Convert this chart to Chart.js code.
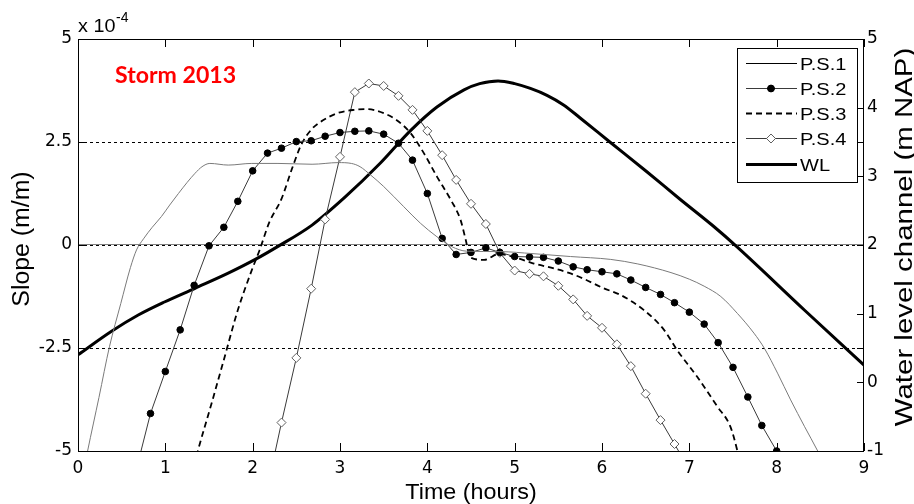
<!DOCTYPE html>
<html lang="en">
<head>
<meta charset="UTF-8">
<title>Storm 2013</title>
<script src="https://cdn.jsdelivr.net/npm/chart.js"></script>
<style>
  body { margin: 0; background: #fff; }
  canvas { display: block; }
</style>
</head>
<body>
<canvas id="grafico" width="914" height="504"></canvas>
<script>
// tick values of the three axes
var xTicks = [0, 1, 2, 3, 4, 5, 6, 7, 8, 9];
var slopeTicks = [-5, -2.5, 0, 2.5, 5];
var levelTicks = [-1, 0, 1, 2, 3, 4, 5];

// P.S.1 (thin grey line), slope x 1e-4
var ps1Time = [0.0, 0.11, 0.24, 0.36, 0.49, 0.60, 0.67, 0.75, 0.85, 0.955, 1.05, 1.15, 1.25, 1.34, 1.42, 1.51, 1.72, 1.99, 2.29, 2.68, 2.98, 3.13, 3.23, 3.35, 3.50, 3.73, 3.92, 4.11, 4.28, 4.45, 4.83, 5.21, 5.64, 6.10, 6.41, 6.79, 7.00, 7.17, 7.36, 7.55, 7.74, 7.86, 8.01, 8.16, 8.32, 8.47, 8.60];
var ps1Slope = [-6.2, -5.0, -3.7, -2.47, -1.42, -0.55, -0.12, 0.15, 0.43, 0.69, 0.97, 1.25, 1.52, 1.74, 1.90, 1.98, 1.94, 1.98, 1.98, 1.96, 2.0, 1.98, 1.90, 1.70, 1.42, 0.93, 0.53, 0.20, -0.04, -0.15, -0.16, -0.21, -0.28, -0.35, -0.46, -0.67, -0.83, -1.00, -1.25, -1.66, -2.14, -2.51, -3.11, -3.76, -4.41, -5.0, -5.55];

// P.S.2 (filled dots every 10 minutes)
var ps2Time = [0.67, 0.83, 1.00, 1.17, 1.33, 1.50, 1.67, 1.83, 2.00, 2.17, 2.33, 2.50, 2.67, 2.83, 3.00, 3.17, 3.33, 3.50, 3.67, 3.83, 4.00, 4.17, 4.33, 4.50, 4.67, 4.83, 5.00, 5.17, 5.33, 5.50, 5.67, 5.83, 6.00, 6.17, 6.33, 6.50, 6.67, 6.83, 7.00, 7.17, 7.33, 7.50, 7.67, 7.83, 8.00];
var ps2Slope = [-5.43, -4.09, -3.07, -2.06, -0.98, -0.02, 0.43, 1.06, 1.80, 2.23, 2.35, 2.51, 2.53, 2.64, 2.73, 2.76, 2.77, 2.69, 2.47, 2.06, 1.25, 0.16, -0.23, -0.18, -0.07, -0.18, -0.28, -0.29, -0.30, -0.39, -0.53, -0.60, -0.65, -0.70, -0.85, -1.03, -1.20, -1.40, -1.63, -1.92, -2.37, -2.97, -3.69, -4.38, -5.0];

// P.S.3 (dashed)
var ps3Time = [1.30, 1.38, 1.53, 1.68, 1.83, 1.99, 2.08, 2.19, 2.33, 2.45, 2.56, 2.68, 2.80, 2.97, 3.16, 3.31, 3.50, 3.65, 3.81, 3.96, 4.11, 4.27, 4.38, 4.44, 4.49, 4.65, 4.82, 5.00, 5.22, 5.45, 5.64, 5.80, 6.02, 6.21, 6.48, 6.71, 6.86, 7.09, 7.32, 7.47, 7.55, 7.60];
var ps3Slope = [-5.6, -4.94, -3.84, -2.71, -1.58, -0.61, -0.12, 0.55, 1.12, 1.85, 2.45, 2.82, 3.02, 3.20, 3.28, 3.30, 3.20, 3.03, 2.71, 2.23, 1.66, 1.09, 0.61, 0.12, -0.30, -0.36, -0.22, -0.30, -0.45, -0.57, -0.69, -0.83, -1.05, -1.21, -1.58, -2.06, -2.55, -3.20, -3.92, -4.41, -5.0, -5.5];

// P.S.4 (open diamonds every 10 minutes)
var ps4Time = [2.17, 2.33, 2.50, 2.67, 2.83, 3.00, 3.17, 3.33, 3.50, 3.67, 3.83, 4.00, 4.17, 4.33, 4.50, 4.67, 4.83, 5.00, 5.17, 5.33, 5.50, 5.67, 5.83, 6.00, 6.17, 6.33, 6.50, 6.67, 6.83, 7.00];
var ps4Slope = [-5.88, -4.31, -2.74, -1.06, 0.62, 2.14, 3.71, 3.92, 3.86, 3.62, 3.28, 2.77, 2.18, 1.58, 1.00, 0.51, -0.19, -0.62, -0.70, -0.76, -0.99, -1.32, -1.72, -2.01, -2.41, -2.94, -3.61, -4.25, -4.83, -5.45];

// WL water level channel (m NAP), right axis
var wlTime = [0.0, 0.38, 0.69, 0.99, 1.34, 1.72, 2.03, 2.29, 2.68, 3.06, 3.46, 3.81, 4.11, 4.42, 4.60, 4.81, 5.00, 5.18, 5.37, 5.56, 5.75, 6.09, 6.51, 6.89, 7.27, 7.54, 8.32, 9.00];
var wlLevel = [0.40, 0.74, 0.98, 1.17, 1.37, 1.59, 1.79, 1.98, 2.29, 2.70, 3.19, 3.67, 4.01, 4.26, 4.35, 4.39, 4.35, 4.28, 4.18, 4.04, 3.85, 3.50, 3.07, 2.67, 2.28, 1.98, 1.05, 0.25];

var serieNames = ['P.S.1', 'P.S.2', 'P.S.3', 'P.S.4', 'WL'];

function pontos(tempos, valores) {
    var lista = [];
    for (let i = 0; i < tempos.length; i++) {
        lista.push({ x: tempos[i], y: valores[i] });
    }
    return lista;
}

// text with a horizontal stretch, like the exported figure
function texto(ctx, s, x, y, font, sx, align, rot) {
    ctx.save();
    ctx.translate(x, y);
    if (rot) ctx.rotate(rot);
    ctx.scale(sx, 1);
    ctx.font = font;
    ctx.textAlign = align || 'left';
    ctx.textBaseline = 'alphabetic';
    ctx.fillText(s, 0, 0);
    ctx.restore();
}

var tickFont = { family: 'DejaVu Sans', size: 17 };

var moldura = {
    id: 'moldura',
    beforeDatasetsDraw(chart) {
        var ctx = chart.ctx, a = chart.chartArea, y = chart.scales.y;
        ctx.save();
        // solid grey zero line
        ctx.strokeStyle = '#808080';
        ctx.lineWidth = 1;
        ctx.beginPath();
        ctx.moveTo(a.left, Math.round(y.getPixelForValue(0)) - 0.5);
        ctx.lineTo(a.right, Math.round(y.getPixelForValue(0)) - 0.5);
        ctx.stroke();
        // dashed grid
        ctx.strokeStyle = '#000';
        ctx.setLineDash([3, 3]);
        [2.5, 0, -2.5].forEach(function (v) {
            var py = Math.round(y.getPixelForValue(v)) + 0.5;
            ctx.beginPath();
            ctx.moveTo(a.left, py);
            ctx.lineTo(a.right, py);
            ctx.stroke();
        });
        ctx.restore();
    },
    afterDatasetsDraw(chart) {
        var ctx = chart.ctx, a = chart.chartArea;
        var x = chart.scales.x, y = chart.scales.y, y2 = chart.scales.y2;
        ctx.save();
        ctx.strokeStyle = '#000';
        ctx.lineWidth = 1;
        ctx.setLineDash([]);
        ctx.beginPath();
        // inward ticks top and bottom
        xTicks.forEach(function (t) {
            var px = Math.round(x.getPixelForValue(t)) + 0.5;
            ctx.moveTo(px, a.bottom); ctx.lineTo(px, a.bottom - 8);
            ctx.moveTo(px, a.top); ctx.lineTo(px, a.top + 8);
        });
        // left axis ticks, mirrored on the right
        slopeTicks.forEach(function (v) {
            var py = Math.round(y.getPixelForValue(v)) + 0.5;
            ctx.moveTo(a.left, py); ctx.lineTo(a.left + 7, py);
            ctx.moveTo(a.right, py); ctx.lineTo(a.right - 7, py);
        });
        levelTicks.forEach(function (v) {
            var py = Math.round(y2.getPixelForValue(v)) + 0.5;
            ctx.moveTo(a.right, py); ctx.lineTo(a.right - 7, py);
        });
        ctx.stroke();
        ctx.strokeRect(Math.round(a.left) + 0.5, Math.round(a.top) + 0.5, Math.round(a.right - a.left) - 1, Math.round(a.bottom - a.top));

        // legend
        var lx = 737, ly = 48, lw = 120, lh = 134;
        ctx.fillStyle = '#fff';
        ctx.fillRect(lx, ly, lw, lh);
        ctx.strokeRect(lx + 0.5, ly + 0.5, lw, lh);
        var bases = [70, 95, 120, 145, 171];
        chart.data.datasets.forEach(function (ds, i) {
            var cy = bases[i] - 6.5;
            ctx.save();
            ctx.strokeStyle = i === 0 ? '#000' : ds.borderColor;
            ctx.lineWidth = ds.borderWidth;
            ctx.setLineDash(ds.borderDash || []);
            ctx.beginPath();
            ctx.moveTo(746, cy); ctx.lineTo(797, cy);
            ctx.stroke();
            ctx.restore();
            if (ds.pointRadius > 0) {
                Chart.helpers.drawPoint(ctx, {
                    pointStyle: ds.pointStyle, radius: ds.pointRadius, rotation: 0,
                    borderWidth: ds.pointBorderWidth
                }, 771, cy);
                ctx.fillStyle = ds.pointBackgroundColor;
                ctx.strokeStyle = ds.pointBorderColor;
                ctx.lineWidth = ds.pointBorderWidth;
                ctx.fill();
                ctx.stroke();
            }
            ctx.fillStyle = '#000';
            texto(ctx, serieNames[i], 800, bases[i], '16px "Liberation Sans"', 1.25, 'left');
        });
        ctx.restore();
    },
    afterDraw(chart) {
        var ctx = chart.ctx;
        ctx.save();
        ctx.fillStyle = '#000';
        texto(ctx, 'Time (hours)', 471, 499, '22px "Liberation Sans"', 1.06, 'center');
        texto(ctx, 'Slope (m/m)', 29, 239, '23px "Liberation Sans"', 1.08, 'center', -Math.PI / 2);
        texto(ctx, 'Water level channel (m NAP)', 912, 237, '23px "Liberation Sans"', 1.28, 'center', -Math.PI / 2);
        texto(ctx, 'x 10', 78, 32, '18px "Liberation Sans"', 1.1, 'left');
        texto(ctx, '-4', 116, 22, '14px "Liberation Sans"', 1.0, 'left');
        ctx.fillStyle = '#ff0000';
        texto(ctx, 'Storm 2013', 115, 83, 'bold 22px Lato', 1.05, 'left');
        ctx.restore();
    }
};

var grafico = new Chart(document.getElementById('grafico'), {
    type: 'line',
    data: {
        datasets: [
            {
                label: serieNames[0],
                data: pontos(ps1Time, ps1Slope),
                borderColor: '#7a7a7a',
                borderWidth: 1,
                pointRadius: 0,
                cubicInterpolationMode: 'monotone',
                yAxisID: 'y',
                clip: 0
            },
            {
                label: serieNames[1],
                data: pontos(ps2Time, ps2Slope),
                borderColor: '#3a3a3a',
                borderWidth: 1,
                pointStyle: 'circle',
                pointRadius: 3.3,
                pointBackgroundColor: '#000',
                pointBorderColor: '#000',
                pointBorderWidth: 1,
                tension: 0,
                yAxisID: 'y',
                clip: 0
            },
            {
                label: serieNames[2],
                data: pontos(ps3Time, ps3Slope),
                borderColor: '#000',
                borderWidth: 1.8,
                borderDash: [6, 4],
                pointRadius: 0,
                cubicInterpolationMode: 'monotone',
                yAxisID: 'y',
                clip: 0
            },
            {
                label: serieNames[3],
                data: pontos(ps4Time, ps4Slope),
                borderColor: '#3a3a3a',
                borderWidth: 1,
                pointStyle: 'rectRot',
                pointRadius: 4.5,
                pointBackgroundColor: '#fff',
                pointBorderColor: '#606060',
                pointBorderWidth: 1,
                tension: 0,
                yAxisID: 'y',
                clip: 0
            },
            {
                label: serieNames[4],
                data: pontos(wlTime, wlLevel),
                borderColor: '#000',
                borderWidth: 3,
                pointRadius: 0,
                cubicInterpolationMode: 'monotone',
                yAxisID: 'y2',
                clip: 0
            }
        ]
    },
    options: {
        responsive: false,
        animation: false,
        devicePixelRatio: 1,
        layout: { padding: { top: 39, left: 0, right: 0, bottom: 0 } },
        plugins: {
            legend: { display: false },
            tooltip: { enabled: false }
        },
        scales: {
            x: {
                type: 'linear',
                min: xTicks[0],
                max: xTicks[xTicks.length - 1],
                ticks: { stepSize: 1, padding: 7, color: '#000', font: tickFont },
                grid: { display: false, drawTicks: false },
                border: { display: false },
                afterFit: function (s) { s.height = 53; }
            },
            y: {
                position: 'left',
                min: slopeTicks[0],
                max: slopeTicks[slopeTicks.length - 1],
                ticks: { stepSize: 2.5, padding: 6, color: '#000', font: tickFont },
                grid: { display: false, drawTicks: false },
                border: { display: false },
                afterFit: function (s) { s.width = 78; }
            },
            y2: {
                position: 'right',
                min: levelTicks[0],
                max: levelTicks[levelTicks.length - 1],
                ticks: { stepSize: 1, padding: 3, color: '#000', font: tickFont },
                grid: { display: false, drawTicks: false },
                border: { display: false },
                afterFit: function (s) { s.width = 50; }
            }
        }
    },
    plugins: [moldura]
});
</script>
</body>
</html>
